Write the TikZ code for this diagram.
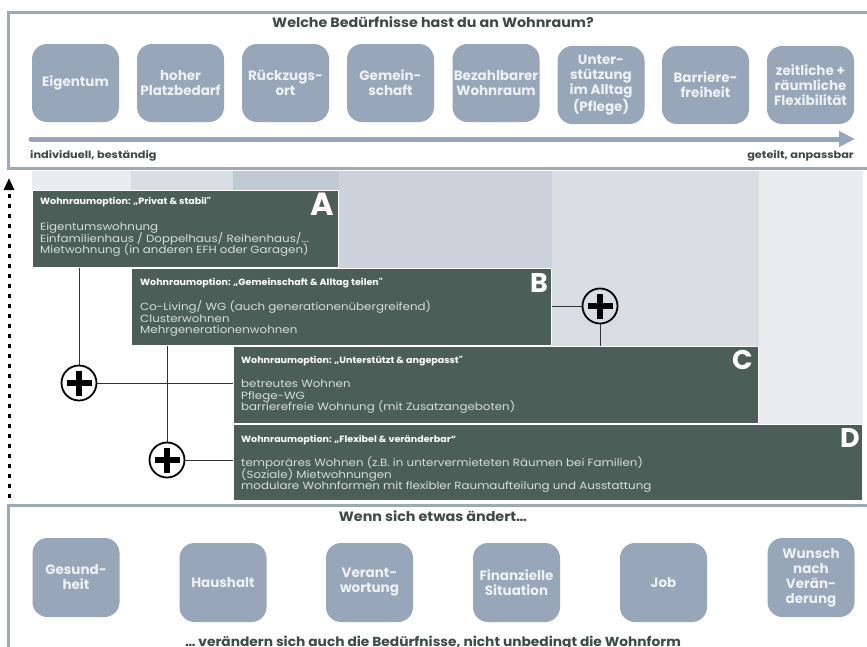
\documentclass[tikz,border=0pt]{standalone}
\usepackage{fontspec}
\setmainfont{Poppins}
\newfontfamily\widefont[FakeStretch=1.13]{Poppins}
\newfontfamily\midfont[FakeStretch=1.06]{Poppins}
\usetikzlibrary{arrows.meta}
\definecolor{tilecol}{HTML}{97A6B8}
\definecolor{framecol}{HTML}{9AA9BB}
\definecolor{optcol}{HTML}{4B5E58}
\definecolor{headcol}{HTML}{3C4B46}
\definecolor{tiletxt}{HTML}{EEF1F4}
\definecolor{bodytxt}{HTML}{D8DEDB}
\tikzset{
  frame/.style={draw=framecol, line width=3pt},
  tilebox/.style={fill=tilecol, rounded corners=15pt, minimum width=87pt, minimum height=78pt,
    inner sep=0pt, align=center, text=tiletxt, font=\bfseries\fontsize{13.5}{15}\selectfont},
  band/.style={fill=tilecol, fill opacity=0.2, draw=none},
  optbox/.style={fill=optcol, draw=white, line width=0.8pt, anchor=north west, inner sep=0pt},
  opttitle/.style={anchor=base west, inner sep=0pt, text=white, font=\midfont\bfseries\fontsize{9}{10}\selectfont},
  optline/.style={anchor=base west, inner sep=0pt, text=bodytxt, font=\widefont\fontsize{10.5}{11}\selectfont},
  optletter/.style={anchor=base east, inner sep=0pt, text=white, font=\bfseries\fontsize{27}{27}\selectfont},
  plusc/.style={circle, draw=black, line width=1.8pt, minimum size=35pt, inner sep=0pt,
    path picture={
      \draw[line width=6pt, black] ([xshift=-12.5pt]path picture bounding box.center) -- ([xshift=12.5pt]path picture bounding box.center);
      \draw[line width=6pt, black] ([yshift=-12.5pt]path picture bounding box.center) -- ([yshift=12.5pt]path picture bounding box.center);}},
  conn/.style={draw=black!80, line width=1pt},
  heading/.style={text=headcol, font=\midfont\bfseries\fontsize{13.5}{15}\selectfont, inner sep=0pt},
  axislabel/.style={text=headcol, font=\widefont\bfseries\fontsize{10}{11}\selectfont, inner sep=0pt},
}
\begin{document}
\begin{tikzpicture}[x=1pt,y=-1pt]
\useasboundingbox (0,0) rectangle (867,646);
\fill[white] (0,0) rectangle (867,646);

% ---------- top frame ----------
\draw[frame] (8,12) rectangle (869,168);
\node[heading] (q1) at (433,22) {Welche Bedürfnisse hast du an Wohnraum?};

\node[tilebox] (t1) at (75.5,83) {Eigentum};
\node[tilebox] (t2) at (180.5,83) {hoher\\Platzbedarf};
\node[tilebox] (t3) at (285.5,83) {Rückzugs-\\ort};
\node[tilebox] (t4) at (390.5,83) {Gemein-\\schaft};
\node[tilebox] (t5) at (496,83) {Bezahlbarer\\Wohnraum};
\node[tilebox] (t6) at (601,85) {Unter-\\stützung\\im Alltag\\(Pflege)};
\node[tilebox] (t7) at (705.5,85) {Barriere-\\freiheit};
\node[tilebox] (t8) at (810.5,85) {zeitliche +\\räumliche\\Flexibilität};

\coordinate (as) at (31,139);
\coordinate (ae) at (855,139);
\draw[tilecol, line width=5pt, line cap=round, -{Triangle[length=16pt,width=15pt]}] (as) -- (ae);
\node[axislabel, anchor=base west] (ll) at (30,158.5) {individuell, beständig};
\node[axislabel, anchor=base east] (lr) at (854,158.5) {geteilt, anpassbar};

% ---------- background bands ----------
\fill[band] (32,171) rectangle (339,190);
\fill[band] (131,171) rectangle (552,268);
\fill[band] (233,171) rectangle (759,346);
\fill[band] (233,171) rectangle (863,424);

% ---------- option boxes ----------
\node[optbox, minimum width=306pt, minimum height=77pt] (A) at (32,190) {};
\node[optbox, minimum width=420pt, minimum height=77pt] (B) at (131,268) {};
\node[optbox, minimum width=525pt, minimum height=77pt] (C) at (233,346) {};
\node[optbox, minimum width=629pt, minimum height=76pt] (D) at (233,424) {};

\node[opttitle] (Ah) at (40,204) {Wohnraumoption: „Privat \& stabil"};
\node[optline] (A1) at (40,230.5) {Eigentumswohnung};
\node[optline] (A2) at (40,242) {Einfamilienhaus / Doppelhaus/ Reihenhaus/...};
\node[optline] (A3) at (40,253.5) {Mietwohnung (in anderen EFH oder Garagen)};
\node[optletter, font=\bfseries\fontsize{32}{32}\selectfont] (Al) at (334,215) {A};

\node[opttitle] (Bh) at (140,285.5) {Wohnraumoption: „Gemeinschaft \& Alltag teilen"};
\node[optline] (B1) at (140,310.5) {Co-Living/ WG (auch generationenübergreifend)};
\node[optline] (B2) at (140,322) {Clusterwohnen};
\node[optline] (B3) at (140,333.5) {Mehrgenerationenwohnen};
\node[optletter] (Bl) at (548,292) {B};

\node[opttitle] (Ch) at (241,363.5) {Wohnraumoption: „Unterstützt \& angepasst"};
\node[optline] (C1) at (241,387.5) {betreutes Wohnen};
\node[optline] (C2) at (241,399) {Pflege-WG};
\node[optline] (C3) at (241,410.5) {barrierefreie Wohnung (mit Zusatzangeboten)};
\node[optletter] (Cl) at (753,369) {C};

\node[opttitle] (Dh) at (241,442.5) {Wohnraumoption: „Flexibel \& veränderbar“};
\node[optline] (D1) at (241,466.5) {temporäres Wohnen (z.B. in untervermieteten Räumen bei Familien)};
\node[optline] (D2) at (241,478) {(Soziale) Mietwohnungen};
\node[optline] (D3) at (241,489.5) {modulare Wohnformen mit flexibler Raumaufteilung und Ausstattung};
\node[optletter] (Dl) at (860,447) {D};

% ---------- plus connectors ----------
\node[plusc] (p1) at (79,383) {};
\node[plusc] (p2) at (167,460) {};
\node[plusc] (p3) at (600,306) {};
\draw[conn] (p1.north) -- (p1.north |- A.south);
\draw[conn] (p1.east) -- (p1.east -| C.west);
\draw[conn] (p2.north) -- (p2.north |- B.south);
\draw[conn] (p2.east) -- (p2.east -| D.west);
\draw[conn] (p3.west) -- (p3.west -| B.east);
\draw[conn] (p3.south) -- (p3.south |- C.north);

% ---------- dotted arrow ----------
\coordinate (vs) at (9,498);
\coordinate (ve) at (9,178);
\draw[black, line width=3pt, dash pattern=on 4.5pt off 5.5pt, -{Triangle[length=12pt,width=10pt]}] (vs) -- (ve);

% ---------- bottom frame ----------
\draw[frame] (8,660) -- (8,505) -- (870,505);
\node[heading] (q2) at (433,516) {Wenn sich etwas ändert…};

\node[tilebox, minimum height=79pt] (b1) at (76,577.5) {Gesund-\\heit};
\node[tilebox, minimum height=79pt] (b2) at (223,582.5) {Haushalt};
\node[tilebox, minimum height=79pt] (b3) at (369.5,582.5) {Verant-\\wortung};
\node[tilebox, minimum height=79pt] (b4) at (516.5,582.5) {Finanzielle\\Situation};
\node[tilebox, minimum height=79pt] (b5) at (663.5,582.5) {Job};
\node[tilebox, minimum height=79pt] (b6) at (811,577.5) {Wunsch\\nach\\Verän-\\derung};

\node[heading, anchor=base, font=\midfont\bfseries\fontsize{13}{14}\selectfont] (q3) at (433,646.5) {… verändern sich auch die Bedürfnisse, nicht unbedingt die Wohnform};
\end{tikzpicture}
\end{document}
